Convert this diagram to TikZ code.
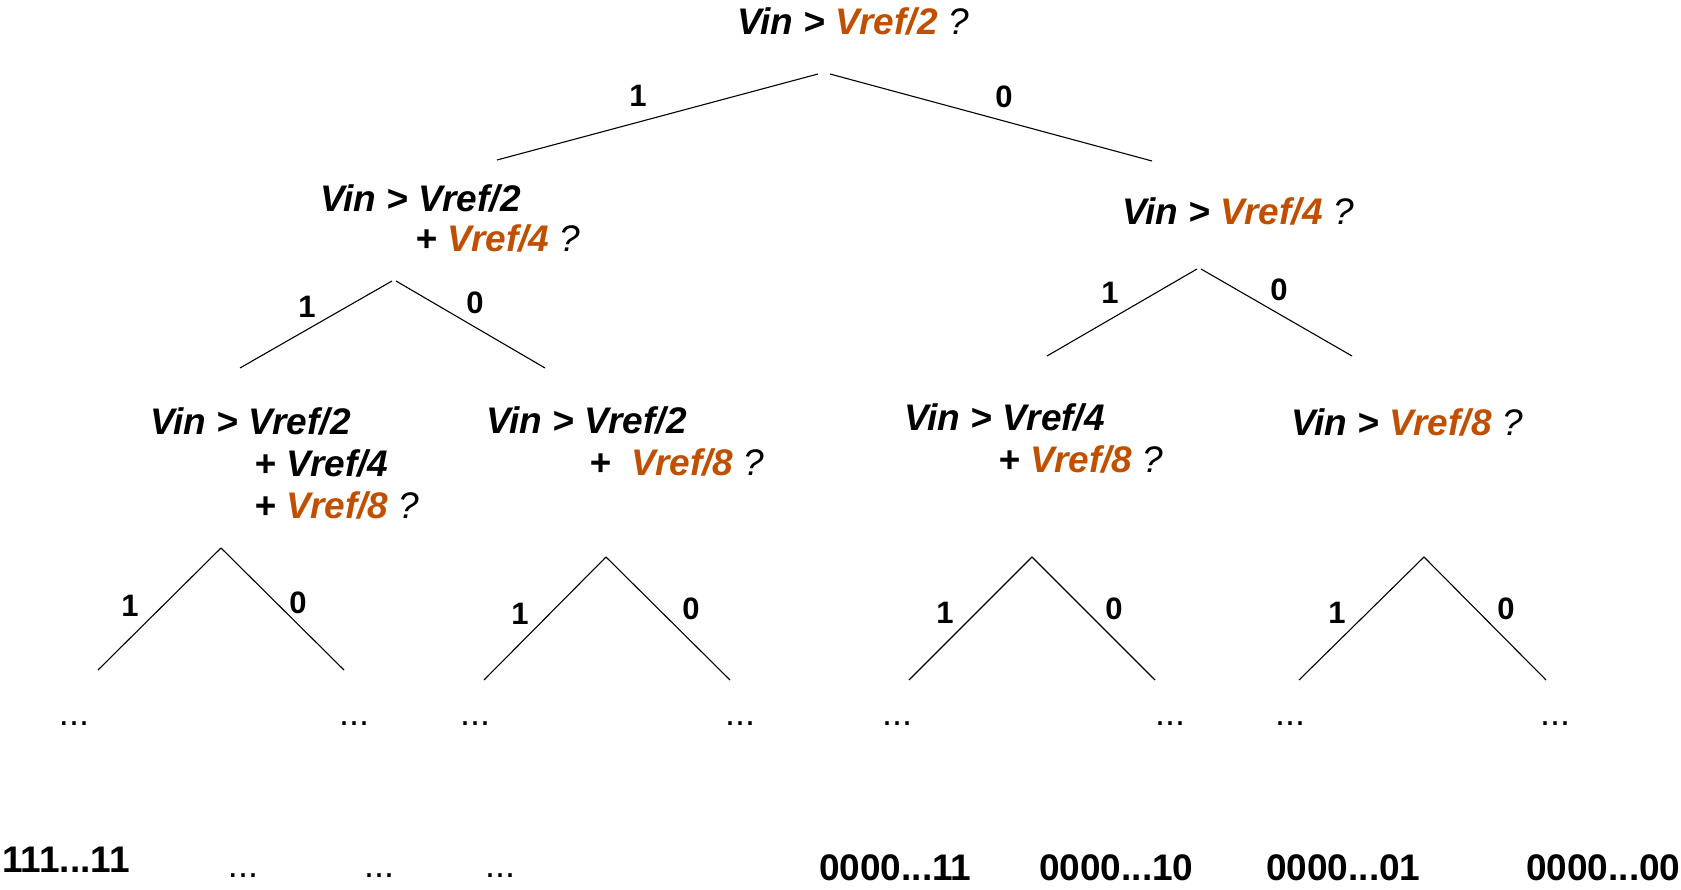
\documentclass[tikz,border=0pt]{standalone}
\usepackage{fontspec}
\setmainfont{Liberation Sans}
\definecolor{vref}{RGB}{192,80,0}
\newcommand\hl[1]{\textcolor{vref}{#1}}
\newcommand\qmark{{\mdseries ?}}
\begin{document}
\begin{tikzpicture}[x=1pt,y=-1pt,
  q/.style={anchor=base west,inner sep=0pt,font=\fontsize{37}{44}\selectfont\bfseries\itshape},
  bit/.style={inner sep=0pt,font=\fontsize{31}{36}\selectfont\bfseries},
  dotsn/.style={inner sep=0pt,font=\fontsize{36}{40}\selectfont},
  code/.style={anchor=base west,inner sep=0pt,font=\fontsize{37}{44}\selectfont\bfseries},
  br/.style={line width=1.1pt}]
\useasboundingbox[fill=white] (0,0) rectangle (1681,890);

% ---------- question nodes ----------
\node[q] (q0) at (737,35) {Vin > \hl{Vref/2} \qmark};

\node[q] (q1a) at (320,212) {Vin > Vref/2};
\node[q] (q1b) at (415,252) {+ \hl{Vref/4} \qmark};

\node[q] (q2) at (1122,225) {Vin > \hl{Vref/4} \qmark};

\node[q] (q3a) at (150,434) {Vin > Vref/2};
\node[q] (q3b) at (254,476) {+ Vref/4};
\node[q] (q3c) at (254,518) {+ \hl{Vref/8} \qmark};

\node[q] (q4a) at (486,433) {Vin > Vref/2};
\node[q] (q4b) at (589,475) {+\hspace{0.55em}\hl{Vref/8} \qmark};

\node[q] (q5a) at (904,430) {Vin > Vref/4};
\node[q] (q5b) at (998,472) {+ \hl{Vref/8} \qmark};

\node[q] (q6) at (1291,435) {Vin > \hl{Vref/8} \qmark};

% ---------- branch coordinates ----------
\coordinate (t0l) at (818,74);  \coordinate (t0r) at (830,74);
\coordinate (e0l) at (497,160); \coordinate (e0r) at (1152,161);

\coordinate (t1l) at (392,281); \coordinate (t1r) at (396,281);
\coordinate (e1l) at (240,368); \coordinate (e1r) at (545,368);

\coordinate (t2l) at (1197,269); \coordinate (t2r) at (1201,269);
\coordinate (e2l) at (1047,356); \coordinate (e2r) at (1352,356);

\coordinate (s1) at (221,548);  \coordinate (s1l) at (98,670);  \coordinate (s1r) at (344,670);
\coordinate (s2) at (606,557);  \coordinate (s2l) at (484,680); \coordinate (s2r) at (730,680);
\coordinate (s3) at (1032,557); \coordinate (s3l) at (909,680); \coordinate (s3r) at (1155,680);
\coordinate (s4) at (1424,557); \coordinate (s4l) at (1299,680); \coordinate (s4r) at (1546,680);

\draw[br] (t0l) -- (e0l);  \draw[br] (t0r) -- (e0r);
\draw[br] (t1l) -- (e1l);  \draw[br] (t1r) -- (e1r);
\draw[br] (t2l) -- (e2l);  \draw[br] (t2r) -- (e2r);
\draw[br] (s1) -- (s1l);   \draw[br] (s1) -- (s1r);
\draw[br] (s2) -- (s2l);   \draw[br] (s2) -- (s2r);
\draw[br] (s3) -- (s3l);   \draw[br] (s3) -- (s3r);
\draw[br] (s4) -- (s4l);   \draw[br] (s4) -- (s4r);

% ---------- branch labels ----------
\node[bit] (b0l) at (638,96) {1};   \node[bit] (b0r) at (1004,97) {0};
\node[bit] (b1l) at (307,307) {1};  \node[bit] (b1r) at (475,303) {0};
\node[bit] (b2l) at (1110,293) {1}; \node[bit] (b2r) at (1279,290) {0};
\node[bit] (b3l) at (130,606) {1};  \node[bit] (b3r) at (298,603) {0};
\node[bit] (b4l) at (520,614) {1};  \node[bit] (b4r) at (691,609) {0};
\node[bit] (b5l) at (945,613) {1};  \node[bit] (b5r) at (1114,609) {0};
\node[bit] (b6l) at (1337,613) {1}; \node[bit] (b6r) at (1506,609) {0};

% ---------- continuation dots ----------
\foreach \x [count=\i] in {74,354,475,740,897,1170,1290,1555}
  \node[dotsn] (d\i) at (\x,724) {...};
\foreach \x [count=\i] in {243,379,500}
  \node[dotsn] (bd\i) at (\x,876) {...};

% ---------- result codes ----------
\node[code] (c1) at (2,872) {111...11};
\node[code] (c2) at (819,880) {0000...11};
\node[code] (c3) at (1039,880) {0000...10};
\node[code] (c4) at (1266,880) {0000...01};
\node[code] (c5) at (1526,880) {0000...00};
\end{tikzpicture}
\end{document}
